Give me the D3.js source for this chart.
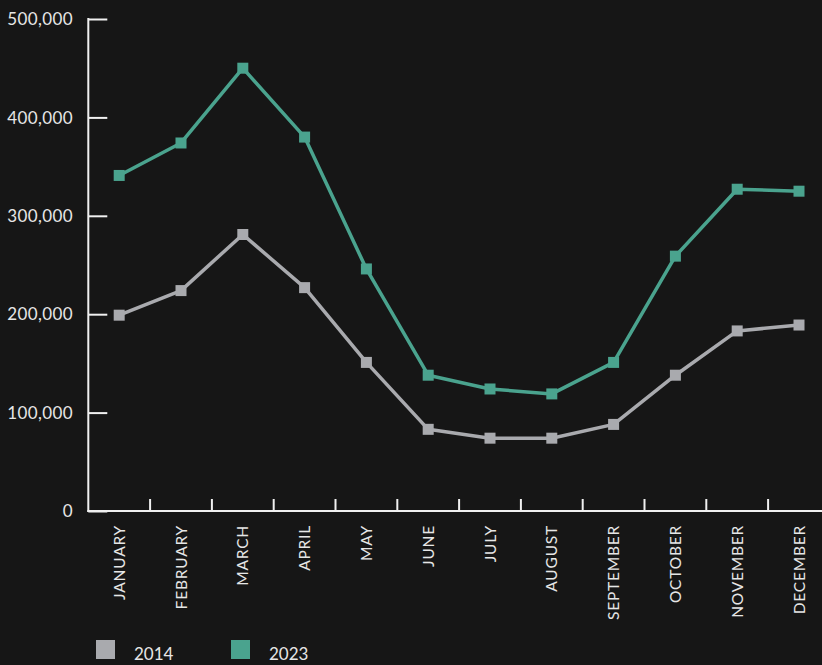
<!DOCTYPE html>
<html><head><meta charset="utf-8">
<script src="https://cdn.jsdelivr.net/npm/d3@7"></script>
<style>
html,body{margin:0;padding:0;background:#161616;}
svg{display:block;}
text{font-family:Lato,"Open Sans",sans-serif;}
</style></head>
<body>
<script>
const months = ["JANUARY","FEBRUARY","MARCH","APRIL","MAY","JUNE","JULY","AUGUST","SEPTEMBER","OCTOBER","NOVEMBER","DECEMBER"];
const values2014 = [199000,224000,281000,227000,151000,83000,74000,74000,88000,138000,183000,189000];
const values2023 = [341000,374000,450000,380000,246000,138000,124000,119000,151000,259000,327000,325000];
const yTicks = [0,100000,200000,300000,400000,500000];
const seriesNames = ["2014","2023"];
const seriesColors = ["#a9aaae","#4aa38e"];

const W = 822, H = 665;
const svg = d3.select("body").append("svg").attr("width",W).attr("height",H);
svg.append("rect").attr("width",W).attr("height",H).attr("fill","#161616");

const x = d3.scaleBand().domain(months).range([88.3, 88.3+12*61.8]).padding(0);
const y = d3.scaleLinear().domain([0,500000]).range([511,19]);

const axisColor = "#f0f0f0";
const textColor = "#e6e6e6";

// y axis
const yAxis = svg.append("g").attr("transform","translate(88.3,0)")
  .call(d3.axisRight(y).tickValues(yTicks).tickSize(19).tickFormat(""));
yAxis.select(".domain").remove();
yAxis.selectAll(".tick line").attr("stroke",axisColor).attr("stroke-width",2);
svg.append("line").attr("x1",88.3).attr("x2",88.3).attr("y1",y(500000)-1).attr("y2",y(0)+1)
  .attr("stroke",axisColor).attr("stroke-width",2);
svg.append("g").selectAll("text").data(yTicks).join("text")
  .attr("x",73).attr("y",d=>y(d)).attr("dy","0.36em").attr("text-anchor","end")
  .attr("fill",textColor).attr("font-size",17).attr("letter-spacing",0.4)
  .text(d=>d3.format(",")(d));

// x axis
const xAxis = svg.append("g").attr("transform","translate(0,511)")
  .call(d3.axisTop(x).tickSize(0).tickFormat(""));
xAxis.select(".domain").remove();
svg.append("line").attr("x1",87.3).attr("x2",W).attr("y1",511).attr("y2",511)
  .attr("stroke",axisColor).attr("stroke-width",2);
svg.append("g").selectAll("line").data(months.slice(1)).join("line")
  .attr("x1",d=>x(d)).attr("x2",d=>x(d)).attr("y1",511).attr("y2",499)
  .attr("stroke",axisColor).attr("stroke-width",2);
svg.append("g").selectAll("text").data(months).join("text")
  .attr("transform",d=>`translate(${x(d)+x.bandwidth()/2},525) rotate(-90)`)
  .attr("dy","0.36em").attr("text-anchor","end")
  .attr("fill",textColor).attr("font-size",15.5).attr("letter-spacing",0.8)
  .text(d=>d);

// lines
const line = d3.line().x((d,i)=>x(months[i])+x.bandwidth()/2).y(d=>y(d));
[values2014, values2023].forEach((vals,si)=>{
  const g = svg.append("g");
  g.append("path").datum(vals).attr("d",line).attr("fill","none")
    .attr("stroke",seriesColors[si]).attr("stroke-width",3.5).attr("stroke-linejoin","round");
  g.selectAll("rect").data(vals).join("rect")
    .attr("x",(d,i)=>x(months[i])+x.bandwidth()/2-5.5).attr("y",d=>y(d)-5.5)
    .attr("width",11).attr("height",11).attr("fill",seriesColors[si]);
});

// legend
const legendX = [96, 231];
seriesNames.forEach((n,i)=>{
  svg.append("rect").attr("x",legendX[i]).attr("y",640).attr("width",19).attr("height",19).attr("fill",seriesColors[i]);
  svg.append("text").attr("x",legendX[i]+38).attr("y",660).attr("fill",textColor).attr("font-size",17).text(n);
});
</script>
</body></html>
